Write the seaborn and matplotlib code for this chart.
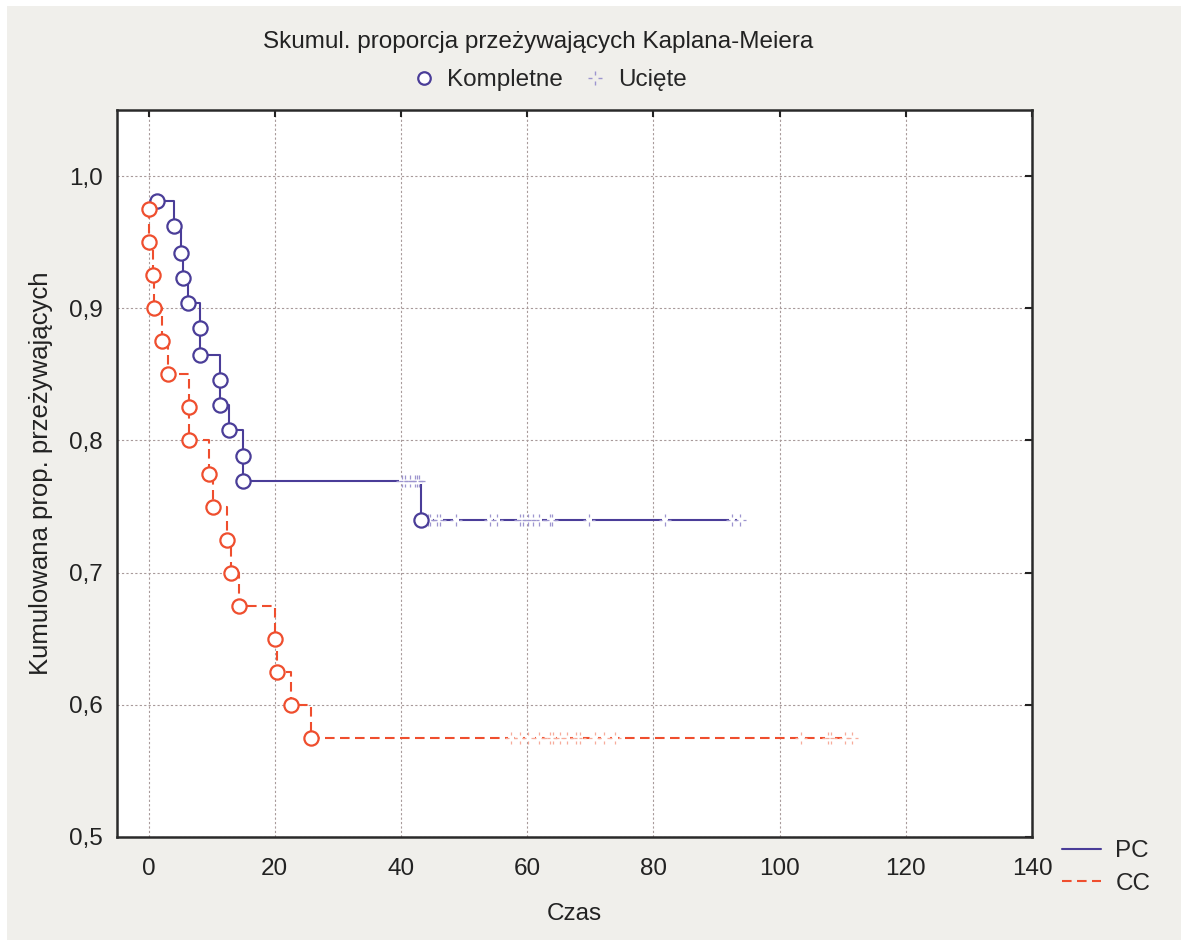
import numpy as np
import pandas as pd
import matplotlib
matplotlib.use("Agg")
import matplotlib.pyplot as plt
from matplotlib.lines import Line2D
from matplotlib.path import Path
from matplotlib.patches import Rectangle
import seaborn as sns

# --- data (time, cumulative survival) ---
pc_event_t = [1.3, 4.0, 5.2, 5.4, 6.3, 8.2, 8.2, 11.4, 11.4, 12.7, 15.0, 15.0, 43.2]
pc_event_s = [0.981, 0.962, 0.942, 0.923, 0.904, 0.885, 0.865, 0.846, 0.827, 0.808, 0.788, 0.769, 0.740]
pc_cens_t = [40.1, 40.7, 41.5, 42.3, 42.5, 42.8,
             44.3, 44.6, 45.7, 46.2, 48.7, 54.1, 55.2, 58.9, 59.4, 60.2, 61.0, 61.9,
             63.6, 63.9, 69.8, 81.8, 92.5, 93.7]
pc_cens_s = [0.769] * 6 + [0.740] * 18

cc_event_t = [0.1, 0.1, 0.7, 0.9, 2.2, 3.1, 6.4, 6.4, 9.6, 10.2, 12.5, 13.1, 14.4, 20.0, 20.3, 22.5, 25.7]
cc_event_s = [0.975, 0.950, 0.925, 0.900, 0.875, 0.850, 0.825, 0.800, 0.775, 0.750, 0.725, 0.700,
              0.675, 0.650, 0.625, 0.600, 0.575]
cc_cens_t = [57.5, 58.8, 60.1, 61.8, 63.6, 64.1, 65.2, 66.3, 67.8, 68.4, 70.7, 72.2, 73.9,
             103.4, 107.6, 108.2, 110.3, 111.5]
cc_cens_s = [0.575] * 18

x_ticks = [0, 20, 40, 60, 80, 100, 120, 140]
y_ticks = [0.5, 0.6, 0.7, 0.8, 0.9, 1.0]
y_tick_labels = ["0,5", "0,6", "0,7", "0,8", "0,9", "1,0"]

colors = {"PC": "#4a3d98", "CC": "#ef4e2e"}
cens_colors = {"PC": "#9d95cf", "CC": "#f7ab9a"}

# build frames
events = pd.concat([
    pd.DataFrame({"t": pc_event_t, "s": pc_event_s, "group": "PC"}),
    pd.DataFrame({"t": cc_event_t, "s": cc_event_s, "group": "CC"}),
], ignore_index=True)
cens = pd.concat([
    pd.DataFrame({"t": pc_cens_t, "s": pc_cens_s, "group": "PC"}),
    pd.DataFrame({"t": cc_cens_t, "s": cc_cens_s, "group": "CC"}),
], ignore_index=True)
curve = pd.concat([events, cens], ignore_index=True)
curve = curve.sort_values(["group", "t", "s"], ascending=[True, True, False])

sns.set_style("white")
plt.rcParams["font.family"] = ["Liberation Sans", "DejaVu Sans"]
fs = 17.5
txt = "#222222"

fig = plt.figure(figsize=(11.81, 9.40), dpi=100, facecolor="white")
fig.patches.append(Rectangle((7 / 1181, 0), 1, 1 - 6 / 940, transform=fig.transFigure,
                             facecolor="#f0efeb", edgecolor="none", zorder=-10))
ax = fig.add_axes([117 / 1181, 1 - 837 / 940, (1032 - 117) / 1181, (837 - 110) / 940])
ax.set_facecolor("white")

# step curves
sns.lineplot(data=curve, x="t", y="s", hue="group", style="group",
             hue_order=["PC", "CC"], palette=colors,
             dashes={"PC": "", "CC": (4.6, 2.6)},
             estimator=None, sort=False, drawstyle="steps-post",
             linewidth=1.5, legend=False, ax=ax, zorder=3)

# censored marks: white gap + dotted cross
cross = Path([(0, 0.45), (0, 1), (0, -0.45), (0, -1), (0.45, 0), (1, 0), (-0.45, 0), (-1, 0)],
             [Path.MOVETO, Path.LINETO] * 4)
for g in ["PC", "CC"]:
    sub = cens[cens["group"] == g]
    sns.scatterplot(x=sub["t"], y=sub["s"], marker="s", s=18, color="white",
                    linewidth=0, ax=ax, zorder=4)
    sns.scatterplot(x=sub["t"], y=sub["s"], marker=cross, s=75, facecolor="none",
                    edgecolor=cens_colors[g], linewidth=0.9, ax=ax, zorder=5)

# complete (event) marks: open circles
for g in ["PC", "CC"]:
    sub = events[events["group"] == g]
    sns.scatterplot(x=sub["t"], y=sub["s"], marker="o", s=105, color="white",
                    edgecolor=colors[g], linewidth=1.6, ax=ax, zorder=6)

ax.set_xlim(-5, 140)
ax.set_ylim(0.5, 1.05)
ax.set_xticks(x_ticks)
ax.set_yticks(y_ticks, y_tick_labels)
ax.grid(True, color="#a89a9a", linestyle=(0, (2, 2)), linewidth=0.8)
ax.tick_params(direction="in", length=5, width=1.5, colors=txt,
               top=True, right=True, labelsize=fs)
ax.tick_params(axis="x", pad=15)
ax.tick_params(axis="y", pad=10)
for sp in ax.spines.values():
    sp.set_visible(True)
    sp.set_color("#2a2a2a")
    sp.set_linewidth(1.8)

ax.set_xlabel("Czas", fontsize=fs, labelpad=17, color=txt)
ax.set_ylabel("Kumulowana prop. przeżywających", fontsize=18.5, labelpad=12, color=txt)

fig.text(538 / 1181, 1 - 42 / 940, "Skumul. proporcja przeżywających Kaplana-Meiera",
         ha="center", va="center", fontsize=fs, color=txt)

top_handles = [
    Line2D([], [], linestyle="none", marker="o", markersize=9, markerfacecolor="white",
           markeredgecolor=colors["PC"], markeredgewidth=1.6),
    Line2D([], [], linestyle="none", marker=cross, markersize=10,
           markeredgecolor=cens_colors["PC"], markeredgewidth=1.0),
]
fig.legend(top_handles, ["Kompletne", "Ucięte"], loc="center",
           bbox_to_anchor=(550 / 1181, 1 - 80 / 940), ncol=2, frameon=False,
           handlelength=0.9, handletextpad=0.5, columnspacing=0.9, fontsize=fs)

side_handles = [
    Line2D([], [], color=colors["PC"], linewidth=1.5),
    Line2D([], [], color=colors["CC"], linewidth=1.5, dashes=(4.6, 2.6)),
]
fig.legend(side_handles, ["PC", "CC"], loc="upper left",
           bbox_to_anchor=(1062 / 1181, 1 - 840 / 940), frameon=False, borderpad=0,
           borderaxespad=0, handlelength=1.6, handletextpad=0.6, labelspacing=0.45,
           fontsize=fs)

fig.savefig("out.png", dpi=100, facecolor=fig.get_facecolor())
